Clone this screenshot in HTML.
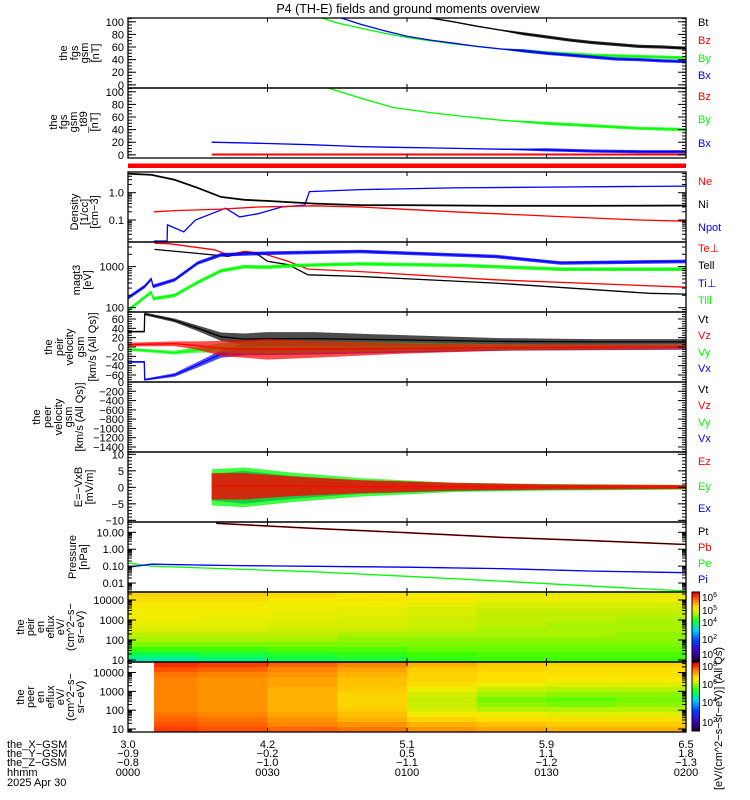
<!DOCTYPE html>
<html><head><meta charset="utf-8"><style>
html,body{margin:0;padding:0;background:#fff;}
svg{display:block;font-family:"Liberation Sans",sans-serif;}
</style></head><body>
<svg id="chart" width="750" height="800" viewBox="0 0 750 800" xmlns="http://www.w3.org/2000/svg">
<text x="408" y="13" text-anchor="middle" font-size="12.5">P4 (TH-E) fields and ground moments overview</text>
</svg>
<script>
// ---------- data arrays ----------
const timeTickMinutes = [0, 30, 60, 90, 120];
const hhmmLabels = ['0000','0030','0100','0130','0200'];
const xGsmLabels = ['3.0','4.2','5.1','5.9','6.5'];
const yGsmLabels = ['-0.9','-0.2','0.5','1.1','1.8'];
const zGsmLabels = ['-0.8','-1.0','-1.1','-1.2','-1.3'];

// fgs gsm
const fgsT = [40,45,50,55,60,65,70,75,80,85,90,95,100,105,110,115,120];
const fgsBy = [110,98,90,82,75,70,65,61,57,54,51,49,47,46,45,44,43];
const fgsBx = [125,108,96,86,77,71,66,61,57,54,50,47,44,41,40,38,37];
const fgsBt = [150,140,130,120,112,106,100,93,87,81,76,71,67,64,61,60,58];
// fgs gsm t89 residual
const t89T = [18,30,40,43,50,57,65,72,80,90,100,110,120];
const t89By = [130,120,112,106,90,75,67,61,55,50,46,42,40];
const t89Bx = [20,18,16,15,13,12,11,10,9,8,6,5,5];
const t89BzT = [18,120];
const t89Bz = [0.5,0.5];
// density
const niT = [0,5,10,15,20,25,30,40,50,60,80,100,120];
const ni = [5.0,4.5,3.0,1.5,0.7,0.55,0.5,0.4,0.35,0.35,0.33,0.33,0.34];
const neT = [5.6,10,20,28,40,50,70,90,110,120];
const ne = [0.2,0.22,0.25,0.3,0.33,0.3,0.2,0.14,0.1,0.09];
const npotT = [5.6,8.4,8.5,12,14.5,21,24,28,33,38,39,50,70,90,120];
const npot = [0.017,0.017,0.066,0.037,0.1,0.27,0.13,0.17,0.3,0.35,1.1,1.3,1.5,1.6,1.75];
// temperature (eV)
const tePerpT = [5.7,9,18.6,21.5,25,28.7,34.4,38.7,50,79,120];
const tePerp = [3715,3590,2570,1950,2344,2138,1349,871,759,479,316];
const teParT = [5.7,14.3,21.5,25,28,30,34.4,38.7,50,79,112,120];
const tePar = [2630,2138,1778,2239,1950,1349,1122,631,575,398,224,214];
const tiPerpT = [0,3.6,5,5.4,10,15,20,30,50,79,93,120];
const tiPerp = [174,331,501,331,479,1230,1950,2138,2344,1778,1230,1349];
const tiParT = [0,5,5.4,10,15,20,25,30,36,50,72,93,120];
const tiPar = [87,240,166,200,417,794,1000,972,1072,1175,1072,871,871];
// ion velocity
const vtT = [0,3.5,3.6,10,15,20,25,30,40,60,80,100,120];
const vt = [33,33,71,57,40,22,17,18,18,15,12,11,11];
const vtSpread = [2,2,3,4,6,9,12,14,14,10,7,6,6];
const vxT = [0,3.5,3.6,10,15,20,25,40,60,80,120];
const vx = [-32,-32,-70,-60,-38,-15,-5,-3,-3,-2,-1];
const vxSpread = [2,2,2,4,6,8,13,13,9,6,5];
const vzT = [0,10,15,20,30,40,60,80,120];
const vz = [5,7,3,-3,-5,-5,-3,-1,0];
const vzSpread = [4,5,9,16,22,18,11,7,5];
const vyT = [0,10,15,20,30,60,80,120];
const vy = [-5,-12,-6,-2,0,0,0,0];
const vySpread = [3,4,6,10,14,9,6,4];
// E field
const eT = [18,25,35,50,70,90,120];
const ex = [0,0,0,0,0,0,0];
const exSpread = [4,5,3.5,2,1.2,0.8,0.5];
const ey = [0,0,0,0,0,0,0];
const eySpread = [5.5,6,4.5,2.8,1.4,1,0.7];
const ez = [0.3,0.3,0.3,0.2,0.2,0.1,0.1];
const ezSpread = [4,4,3,2,1.2,0.8,0.6];
// pressure (nPa)
const ptT = [19,40,60,80,100,120];
const pt = [34,17,9.5,5.1,3.2,1.9];
const piT = [0,5,20,60,80,100,120];
const pi = [0.087,0.13,0.11,0.087,0.071,0.051,0.041];
const peT = [0,5,20,40,60,80,100,120];
const pe = [0.15,0.10,0.071,0.046,0.025,0.013,0.0065,0.0034];
// ion spectrogram (log10 eflux), rows top->bottom
const ionTimeEdges = [0,15,30,45,60,75,90,105,120];
const ionLogE = [4.275,4.025,3.775,3.525,3.275,3.025,2.775,2.525,2.275,2.025,1.775,1.525,1.275,1.025];
const ionFlux = [
 [5.3,5.2,5.1,5.0,5.0,5.0,4.9,4.8,4.6,4.5,4.3,4.0,3.6,3.2],
 [5.3,5.2,5.1,5.0,5.0,4.9,4.9,4.8,4.6,4.5,4.3,4.0,3.7,3.4],
 [5.2,5.1,5.0,5.0,4.9,4.9,4.8,4.7,4.6,4.5,4.3,4.1,3.8,3.6],
 [5.1,5.1,5.0,4.9,4.9,4.8,4.8,4.7,4.5,4.4,4.3,4.1,3.9,3.7],
 [5.0,5.1,4.9,4.8,4.8,4.7,4.7,4.6,4.5,4.4,4.3,4.2,4.0,3.9],
 [4.9,5.0,4.8,4.7,4.6,4.6,4.6,4.5,4.5,4.4,4.3,4.2,4.1,4.0],
 [4.9,5.0,4.8,4.7,4.6,4.6,4.5,4.5,4.5,4.4,4.3,4.2,4.1,4.0],
 [4.9,5.0,4.8,4.7,4.6,4.5,4.5,4.5,4.4,4.4,4.3,4.2,4.1,4.0]
];
// electron spectrogram
const elecTimeEdges = [5.6,15,30,45,60,75,90,105,120];
const elecLogE = [4.427,4.161,3.896,3.630,3.364,3.099,2.833,2.567,2.301,2.036,1.770,1.504,1.239,0.973];
const elecFlux = [
 [8.1,7.9,7.7,7.6,7.6,7.6,7.6,7.6,7.6,7.6,7.7,7.8,7.9,8.0],
 [8.0,7.8,7.6,7.5,7.5,7.5,7.5,7.5,7.5,7.5,7.6,7.7,7.8,7.9],
 [7.8,7.6,7.5,7.4,7.4,7.3,7.3,7.3,7.3,7.3,7.4,7.5,7.6,7.8],
 [7.6,7.4,7.3,7.2,7.2,7.1,7.0,7.0,7.0,7.1,7.2,7.3,7.5,7.7],
 [7.3,7.1,7.0,7.0,6.9,6.7,6.5,6.4,6.4,6.5,6.8,7.0,7.3,7.5],
 [7.1,7.0,6.9,6.9,6.7,6.4,6.2,6.0,6.1,6.3,6.7,6.9,7.2,7.4],
 [7.0,6.9,6.9,6.8,6.6,6.3,6.1,5.9,6.0,6.3,6.6,6.9,7.1,7.3],
 [7.0,6.9,6.9,6.8,6.6,6.3,6.1,6.0,6.1,6.3,6.6,6.9,7.1,7.3]
];

// ---------- rendering ----------
const NS = 'http://www.w3.org/2000/svg';
const svg = document.getElementById('chart');
const X0 = 128, X1 = 686;
function xs(t){ return X0 + t/120*(X1-X0); }
function mk(tag, attrs, parent){
  const e = document.createElementNS(NS, tag);
  for (const k in attrs) e.setAttribute(k, attrs[k]);
  (parent||svg).appendChild(e);
  return e;
}
const panels = {
  fgs:{top:18,bot:88,log:false,min:-5,max:106},
  t89:{top:88,bot:158,log:false,min:-5,max:106},
  dens:{top:172,bot:242,log:true,min:-1.806,max:0.758},
  temp:{top:242,bot:312,log:true,min:1.895,max:3.6},
  vpeir:{top:312,bot:382,log:false,min:-75,max:75},
  vpeer:{top:382,bot:452,log:false,min:-1508,max:0},
  efld:{top:452,bot:522,log:false,min:-10.5,max:10.7},
  pres:{top:522,bot:592,log:true,min:-2.53,max:1.61},
  ispec:{top:592,bot:662,log:true,min:0.9,max:4.4},
  espec:{top:662,bot:732,log:true,min:0.84,max:4.56}
};
function ys(p, v){
  const P = panels[p];
  const u = P.log ? Math.log10(v) : v;
  return P.bot - (u - P.min)/(P.max - P.min)*(P.bot - P.top);
}
function ysLog(p, lv){ const P = panels[p]; return P.bot - (lv - P.min)/(P.max - P.min)*(P.bot - P.top); }

const defs = mk('defs', {});
for (const k in panels){
  const cp = mk('clipPath', {id:'clip-'+k}, defs);
  mk('rect', {x:X0, y:panels[k].top, width:X1-X0, height:panels[k].bot-panels[k].top}, cp);
}

const cstops = [[0,[32,0,48]],[0.15,[64,0,192]],[0.3,[0,64,255]],[0.45,[0,208,255]],[0.55,[0,255,96]],[0.62,[64,255,0]],[0.7,[192,240,0]],[0.76,[248,236,0]],[0.82,[255,192,0]],[0.88,[255,128,0]],[0.94,[255,48,0]],[1,[224,0,0]]];
function cmap(f){
  f = Math.max(0, Math.min(1, f));
  for (let i=1;i<cstops.length;i++){
    if (f <= cstops[i][0]){
      const a=cstops[i-1], b=cstops[i], r=(f-a[0])/(b[0]-a[0]);
      const c=a[1].map((v,j)=>Math.round(v+(b[1][j]-v)*r));
      return 'rgb('+c.join(',')+')';
    }
  }
  return 'rgb(224,0,0)';
}

function spectro(p, edges, logE, flux, vmin, vmax, halfH, name){
  const g = mk('g', {'clip-path':'url(#clip-'+p+')'});
  
  
  for (let c=0;c<flux.length;c++){
    for (let r=0;r<logE.length;r++){
      const y0 = ysLog(p, logE[r]+halfH), y1 = ysLog(p, logE[r]-halfH);
      const cell = mk('rect', {x:xs(edges[c]), y:y0, width:xs(edges[c+1])-xs(edges[c])+0.5, height:y1-y0+0.5, fill:cmap((flux[c][r]-vmin)/(vmax-vmin))}, g);
      
      
    }
  }
}
spectro('ispec', ionTimeEdges, ionLogE, ionFlux, -0.5, 6.8, 0.125, 'ion-spectrogram');
spectro('espec', elecTimeEdges, elecLogE, elecFlux, 1.3, 8.5, 0.1329, 'electron-spectrogram');

function series(p, T, V, color, name, spread, w, op){
  const g = mk('g', {'clip-path':'url(#clip-'+p+')'});
  
  
  if (spread){
    const up = T.map((t,i)=>xs(t).toFixed(1)+','+ys(p, V[i]+spread[i]).toFixed(1));
    const dn = T.map((t,i)=>xs(t).toFixed(1)+','+ys(p, V[i]-spread[i]).toFixed(1)).reverse();
    const band = mk('polygon', {points:up.concat(dn).join(' '), fill:color, 'fill-opacity':op||0.8}, g);
    
    
  }
  const pts = T.map((t,i)=>xs(t).toFixed(1)+','+ys(p, V[i]).toFixed(1)).join(' ');
  const ln = mk('polyline', {points:pts, fill:'none', stroke:color, 'stroke-width':w||1.3}, g);
  
  
}
const BLK='#000', RED='#ff0000', GRN='#00ff00', BLU='#0000ff';
series('fgs', fgsT, fgsBt, BLK, 'fgs-bt', fgsT.map((t)=>t>80?2.5:0.8));
series('fgs', fgsT, fgsBy, GRN, 'fgs-by', fgsT.map((t)=>t>80?2.5:0.6));
series('fgs', fgsT, fgsBx, BLU, 'fgs-bx', fgsT.map((t)=>t>80?2.5:0.6));
series('t89', t89BzT, t89Bz, RED, 't89-bz', null, 2);
series('t89', t89T, t89By, GRN, 't89-by', t89T.map((t)=>t>80?2.5:0.6));
series('t89', t89T, t89Bx, BLU, 't89-bx', t89T.map((t)=>t>80?2.5:0.6));
const rb = mk('rect', {x:X0, y:163.5, width:X1-X0, height:4.5, fill:RED});


series('dens', npotT, npot, BLU, 'density-npot');
series('dens', neT, ne, RED, 'density-ne');
series('dens', niT, ni, BLK, 'density-ni', niT.map((t,i)=>ni[i]*0.08));
series('temp', teParT, tePar, BLK, 'temp-tepar');
series('temp', tePerpT, tePerp, RED, 'temp-teperp');
series('temp', tiParT, tiPar, GRN, 'temp-tipar', tiParT.map((t,i)=>tiPar[i]*0.1));
series('temp', tiPerpT, tiPerp, BLU, 'temp-tiperp', tiPerpT.map((t,i)=>tiPerp[i]*0.1));
series('vpeir', vtT, vt, BLK, 'velocity-vt', vtSpread, 1.3, 0.7);
series('vpeir', vxT, vx, BLU, 'velocity-vx', vxSpread, 1.3, 0.7);
series('vpeir', vyT, vy, GRN, 'velocity-vy', vySpread, 1.3, 0.7);
series('vpeir', vzT, vz, RED, 'velocity-vz', vzSpread, 1.3, 0.7);
series('efld', eT, ex, BLU, 'efield-ex', exSpread, 1.3, 0.75);
series('efld', eT, ey, GRN, 'efield-ey', eySpread, 1.3, 0.75);
series('efld', eT, ez, RED, 'efield-ez', ezSpread, 1.3, 0.8);
series('pres', peT, pe, GRN, 'pressure-pe');
series('pres', piT, pi, BLU, 'pressure-pi', piT.map((t,i)=>pi[i]*0.06));
series('pres', ptT, pt, RED, 'pressure-pb', null, 1.6);
series('pres', ptT, pt, BLK, 'pressure-pt', null, 1);

function frame(p){
  const P = panels[p];
  const r = mk('rect', {x:X0, y:P.top, width:X1-X0, height:P.bot-P.top, fill:'none', stroke:'#000', 'stroke-width':1.3});
  
  
  timeTickMinutes.forEach(t=>{
    mk('line', {x1:xs(t), x2:xs(t), y1:P.top, y2:P.top+4, stroke:'#000'});
    mk('line', {x1:xs(t), x2:xs(t), y1:P.bot, y2:P.bot-4, stroke:'#000'});
  });
}
function ytick(p, v, len, isLog){
  const y = isLog ? ysLog(p, v) : ys(p, v);
  const P = panels[p];
  if (y < P.top-0.5 || y > P.bot+0.5) return;
  mk('line', {x1:X0, x2:X0+len, y1:y, y2:y, stroke:'#000'});
  mk('line', {x1:X1, x2:X1-len, y1:y, y2:y, stroke:'#000'});
}
function ylabel(p, v, txt, isLog){
  const y = isLog ? ysLog(p, v) : ys(p, v);
  const t = mk('text', {x:124, y:y+4, 'text-anchor':'end', 'font-size':11});
  t.textContent = txt;
  
  
}
for (const k in panels) frame(k);
const linTicks = {
  fgs:{major:[0,20,40,60,80,100], minor:5, labels:['0','20','40','60','80','100']},
  t89:{major:[0,20,40,60,80,100], minor:5, labels:['0','20','40','60','80','100']},
  vpeir:{major:[-60,-40,-20,0,20,40,60], minor:5, labels:['−60','−40','−20','0','20','40','60']},
  vpeer:{major:[0,-200,-400,-600,-800,-1000,-1200,-1400], minor:50, labels:['0','−200','−400','−600','−800','−1000','−1200','−1400']},
  efld:{major:[-10,-5,0,5,10], minor:1, labels:['−10','−5','0','5','10']}
};
for (const k in linTicks){
  const L = linTicks[k], P = panels[k];
  for (let v=Math.ceil(P.min/L.minor)*L.minor; v<=P.max; v+=L.minor) ytick(k, v, 4, false);
  L.major.forEach((v,i)=>{ ytick(k, v, 8, false); ylabel(k, v, L.labels[i], false); });
}
const logTicks = {
  dens:{labels:[[0,'1.0'],[-1,'0.1']]},
  temp:{labels:[[3,'1000'],[2,'100']]},
  pres:{labels:[[1,'10.00'],[0,'1.00'],[-1,'0.10'],[-2,'0.01']]},
  ispec:{labels:[[4,'10000'],[3,'1000'],[2,'100'],[1,'10']]},
  espec:{labels:[[4,'10000'],[3,'1000'],[2,'100'],[1,'10']]}
};
for (const k in logTicks){
  const P = panels[k];
  for (let d=Math.floor(P.min); d<=Math.ceil(P.max); d++){
    for (let m=1;m<10;m++) ytick(k, d+Math.log10(m), m===1?8:4, true);
  }
  logTicks[k].labels.forEach(l=>ylabel(k, l[0], l[1], true));
}

function ytitle(lines, xsArr, cy, name){
  const g = mk('g', {});
  
  
  lines.forEach((s,i)=>{
    const t = mk('text', {x:xsArr[i], y:cy, 'text-anchor':'middle', 'font-size':11, transform:'rotate(-90 '+xsArr[i]+' '+cy+')'}, g);
    t.textContent = s;
  });
}
ytitle(['the','fgs','gsm','[nT]'], [67,78,88,99], 53, 'fgs-y-title');
ytitle(['the','fgs','gsm','_t89','[nT]'], [57,67,77,87,98], 122, 't89-y-title');
ytitle(['Density','[1/cc]','[cm−3]'], [78,88,98], 212, 'density-y-title');
ytitle(['magt3','[eV]'], [80,91], 280, 'temp-y-title');
ytitle(['the','peir','velocity','gsm','[km/s (All Qs)]'], [52,63,73,84,96], 347, 'peir-velocity-y-title');
ytitle(['the','peer','velocity','gsm','[km/s (All Qs)]'], [40,51,62,72,83], 417, 'peer-velocity-y-title');
ytitle(['E=−VxB','[mV/m]'], [82,93], 487, 'efield-y-title');
ytitle(['Pressure','[nPa]'], [76,87], 557, 'pressure-y-title');
ytitle(['the','peir','en','eflux','eV/','(cm^2−s−','sr−eV)'], [24,34,44,54,64,74,84], 627, 'ion-eflux-y-title');
ytitle(['the','peer','en','eflux','eV/','(cm^2−s−','sr−eV)'], [24,34,44,54,64,74,84], 697, 'elec-eflux-y-title');

const legends = [
 ['Bt',BLK,26],['Bz',RED,44],['By',GRN,62],['Bx',BLU,79],
 ['Bz',RED,100],['By',GRN,123],['Bx',BLU,147],
 ['Ne',RED,185],['Ni',BLK,208],['Npot',BLU,231],
 ['Te⊥',RED,252],['Tell',BLK,269],['Ti⊥',BLU,287],['Till',GRN,304],
 ['Vt',BLK,323],['Vz',RED,339],['Vy',GRN,356],['Vx',BLU,372],
 ['Vt',BLK,393],['Vz',RED,409],['Vy',GRN,426],['Vx',BLU,442],
 ['Ez',RED,465],['Ey',GRN,490],['Ex',BLU,512],
 ['Pt',BLK,535],['Pb',RED,551],['Pe',GRN,567],['Pi',BLU,583]
];
legends.forEach(l=>{
  const t = mk('text', {x:698, y:l[2], 'font-size':11, fill:l[1]});
  t.textContent = l[0];
  
  
});

function colorbar(y0, y1, name, labels){
  const g = mk('g', {});
  
  
  const n = 60;
  for (let i=0;i<n;i++){
    const y = y1 - (i+1)*(y1-y0)/n;
    mk('rect', {x:692, y:y, width:7.5, height:(y1-y0)/n+0.4, fill:cmap((i+0.5)/n)}, g);
  }
  mk('rect', {x:692, y:y0, width:7.5, height:y1-y0, fill:'none', stroke:'#000'}, g);
  labels.forEach(l=>{
    const t = mk('text', {x:702, y:l[1]+4, 'font-size':10}, g);
    t.textContent = '10';
    const s = mk('tspan', {dy:-4, 'font-size':7}, t);
    s.textContent = l[0];
  });
}
colorbar(592, 661, 'ion-colorbar', [['6',597],['5',610],['4',622],['2',639],['0',654]]);
colorbar(662, 731, 'electron-colorbar', [['8',666],['6',684],['4',702],['2',722]]);
const cbt = mk('text', {x:722, y:790, 'font-size':11, transform:'rotate(-90 722 790)'});
cbt.textContent = '[eV/(cm^2−s−sr−eV)] (All Qs)';



const rowsLbl = [['the_X−GSM',xGsmLabels,748],['the_Y−GSM',yGsmLabels,757],['the_Z−GSM',zGsmLabels,766],['hhmm',hhmmLabels,776]];
rowsLbl.forEach(r=>{
  const t = mk('text', {x:7, y:r[2], 'font-size':11});
  t.textContent = r[0];
  
  
  r[1].forEach((s,i)=>{
    const v = mk('text', {x:xs(timeTickMinutes[i]), y:r[2], 'font-size':11, 'text-anchor':'middle'});
    v.textContent = s.replace('-','−');
    
    
  });
});
const dt = mk('text', {x:7, y:786, 'font-size':11});
dt.textContent = '2025 Apr 30';


</script>
</body></html>
